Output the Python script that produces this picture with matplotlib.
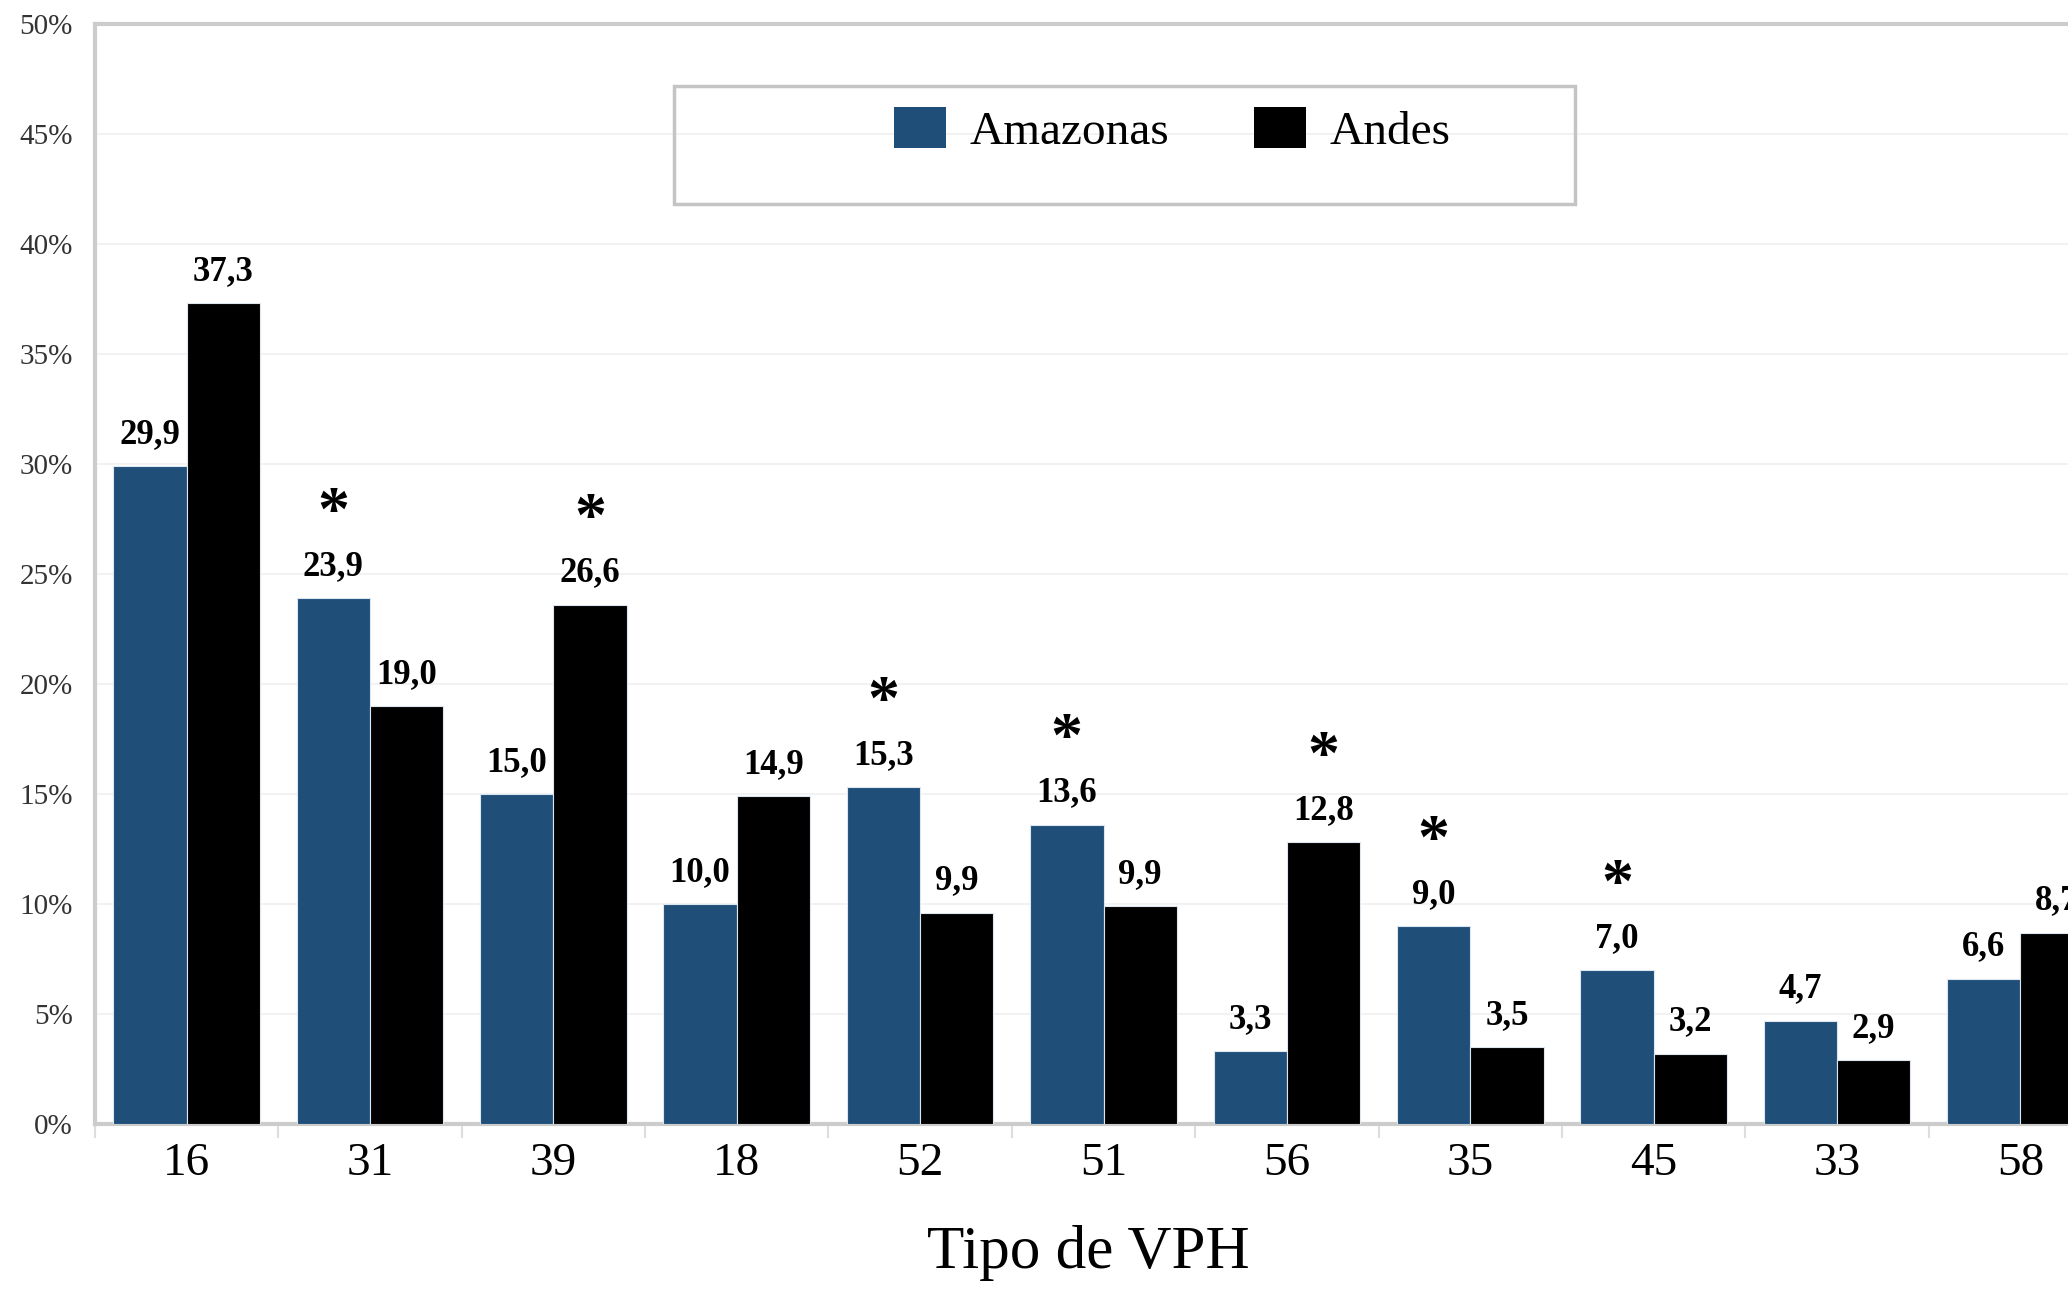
import numpy as np
import matplotlib
matplotlib.use("Agg")
import matplotlib.pyplot as plt
from matplotlib.patches import Rectangle, Patch

plt.rcParams["font.family"] = ["Liberation Serif", "DejaVu Serif"]

# data
tipos = ["16", "31", "39", "18", "52", "51", "56", "35", "45", "33", "58"]
amazonas = [29.9, 23.9, 15.0, 10.0, 15.3, 13.6, 3.3, 9.0, 7.0, 4.7, 6.6]
andes = [37.3, 19.0, 23.6, 14.9, 9.6, 9.9, 12.8, 3.5, 3.2, 2.9, 8.7]
# printed labels (two of the Andes labels differ from bar heights in the source)
amazonas_txt = ["29,9", "23,9", "15,0", "10,0", "15,3", "13,6", "3,3", "9,0", "7,0", "4,7", "6,6"]
andes_txt = ["37,3", "19,0", "26,6", "14,9", "9,9", "9,9", "12,8", "3,5", "3,2", "2,9", "8,7"]
# significance markers
amazonas_star = [0, 1, 0, 0, 1, 1, 0, 1, 1, 0, 0]
andes_star = [0, 0, 1, 0, 0, 0, 1, 0, 0, 0, 0]

blue = "#1f4e79"
W, H = 2068, 1290
fig = plt.figure(figsize=(W / 100, H / 100), dpi=100)
# axes run past the right edge, so the last group is cut like the source
ax = fig.add_axes([95 / W, (H - 1124) / H, (2112 - 95) / W, 1100 / H])

x = np.arange(len(tipos))
w = 0.4
b1 = ax.bar(x - w / 2, amazonas, w, color=blue, edgecolor="#dce6f0", linewidth=0.8, zorder=3)
b2 = ax.bar(x + w / 2, andes, w, color="black", edgecolor="#dce6f0", linewidth=0.8, zorder=3)

for bars, txt, stars in [(b1, amazonas_txt, amazonas_star), (b2, andes_txt, andes_star)]:
    for r, t, s in zip(bars, txt, stars):
        cx = r.get_x() + r.get_width() / 2
        top = r.get_height()
        ax.annotate(t, (cx, top), xytext=(0, 11), textcoords="offset points",
                    ha="center", va="bottom", fontsize=25, fontweight="bold", zorder=4)
        if s:
            ax.annotate("*", (cx, top), xytext=(0, 60), textcoords="offset points",
                        ha="center", va="center", fontsize=46, fontweight="bold", zorder=4)

ax.set_xlim(-0.5, len(tipos) - 0.5)
ax.set_ylim(0, 50)
ax.set_yticks(np.arange(0, 51, 5))
ax.set_yticklabels([f"{v}%" for v in range(0, 51, 5)], fontsize=21, color="#333333")
ax.tick_params(axis="y", length=0, pad=16)
ax.set_xticks(x)
ax.set_xticklabels(tipos, fontsize=34)
ax.tick_params(axis="x", length=0, pad=13)
ax.set_xticks(np.arange(-0.5, len(tipos), 1), minor=True)
ax.tick_params(axis="x", which="minor", length=10, width=1.5, color="#dddddd")
ax.grid(axis="y", color="#f0f0f0", linewidth=1.2, zorder=0)

for sp in ["left", "top", "bottom"]:
    ax.spines[sp].set_color("#cccccc")
    ax.spines[sp].set_linewidth(3)
ax.spines["right"].set_visible(False)

# legend box
ax.add_patch(Rectangle((0.287, 0.8364), 0.447, 0.1072, transform=ax.transAxes,
                       fill=False, edgecolor="#c4c4c4", linewidth=2.5, zorder=5))
handles = [Patch(facecolor=blue, label="Amazonas"), Patch(facecolor="black", label="Andes")]
ax.legend(handles=handles, loc="center", bbox_to_anchor=(0.534, 0.903), ncol=2,
          frameon=False, fontsize=34, handlelength=1.1, handleheight=0.95,
          handletextpad=0.5, columnspacing=1.8)

fig.text(1088 / W, 1 - 1253 / H, "Tipo de VPH", ha="center", va="center", fontsize=44)

fig.savefig("out.png", dpi=100)
